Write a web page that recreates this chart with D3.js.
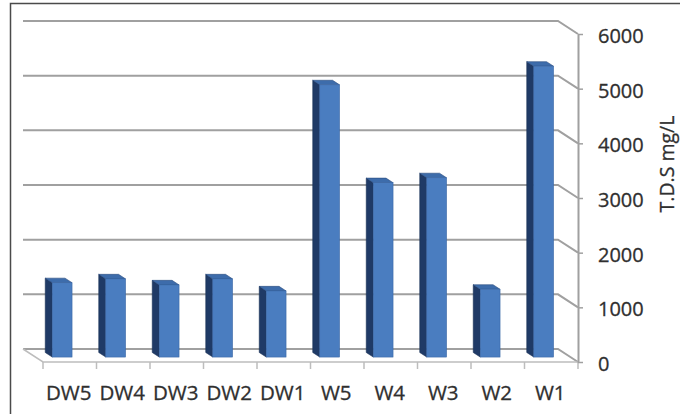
<!DOCTYPE html>
<html>
<head>
<meta charset="utf-8">
<script src="https://cdn.jsdelivr.net/npm/d3@7"></script>
<style>
  html, body { margin: 0; padding: 0; background: #ffffff; }
  svg { display: block; }
  text { font-family: "Open Sans", "Noto Sans", sans-serif; fill: #2f2f2f; stroke: #2f2f2f; stroke-width: 0.3px; }
</style>
</head>
<body>
<svg id="chart" width="680" height="414"></svg>
<script>
// Sampling sites and their total dissolved solids (mg/L)
const categories = ["DW5", "DW4", "DW3", "DW2", "DW1", "W5", "W4", "W3", "W2", "W1"];
const tdsValues = [1360, 1430, 1320, 1430, 1210, 4980, 3190, 3280, 1240, 5320];
const tickValues = [0, 1000, 2000, 3000, 4000, 5000, 6000];
const axisTitle = "T.D.S mg/L";

const svg = d3.select("#chart");

// Front plane scales (floor front edge and value axis)
const x = d3.scaleBand().domain(categories).range([43, 578]);
const y = d3.scaleLinear().domain([0, 6000]).range([362, 34]);

// Oblique depth: the back wall sits up-left of the front plane
const DX = 20, DY = 13;
function proj(px, v, t) {
  return [px - (1 - t) * DX, y(v) - (1 - t) * DY];
}

// Outer frame (right and bottom edges run past the canvas)
svg.append("rect")
  .attr("x", 10.5).attr("y", 3.5)
  .attr("width", 680).attr("height", 430)
  .attr("fill", "none").attr("stroke", "#4a4a4a").attr("stroke-width", 1.5);

const [xl, xr] = x.range();

// Back wall gridlines with their side-wall returns to the value axis
const grid = svg.append("g").attr("stroke", "#a0a0a0").attr("stroke-width", 2).attr("fill", "none");
tickValues.forEach(v => {
  const a = proj(xl, v, 0), b = proj(xr, v, 0), c = proj(xr, v, 1);
  grid.append("path").attr("d", `M${a[0]},${a[1]}L${b[0]},${b[1]}L${c[0]},${c[1]}`);
});

// Floor outline
const f0 = proj(xl, 0, 0), f1 = proj(xl, 0, 1), f2 = proj(xr, 0, 1);
svg.append("path")
  .attr("d", `M${f0[0]},${f0[1]}L${f1[0]},${f1[1]}L${f2[0]},${f2[1]}`)
  .attr("fill", "none").attr("stroke", "#bdbdbd").attr("stroke-width", 1.5);

// Category boundary ticks under the floor
const bounds = categories.map(c => x(c)).concat([xr]);
svg.append("g").selectAll("line").data(bounds).join("line")
  .attr("x1", d => d).attr("x2", d => d)
  .attr("y1", y(0)).attr("y2", y(0) + 7)
  .attr("stroke", "#bdbdbd").attr("stroke-width", 1.5);

// Bars: front face, left side face, top face
const tFront = 0.62, tBack = 0.27;
const barW = x.bandwidth() * 0.37;
const pts = arr => arr.map(p => p.join(",")).join(" ");

const bars = svg.append("g").selectAll("g").data(categories.map((c, i) => ({ c, v: tdsValues[i] }))).join("g");

bars.each(function (d) {
  const g = d3.select(this);
  const cx = x(d.c) + x.bandwidth() / 2;
  const x0 = cx - barW / 2, x1 = cx + barW / 2;
  g.append("polygon")
    .attr("points", pts([proj(x0, 0, tFront), proj(x0, d.v, tFront), proj(x0, d.v, tBack), proj(x0, 0, tBack)]))
    .attr("fill", "#1f3a66").attr("stroke", "#182f55").attr("stroke-width", 0.6);
  g.append("polygon")
    .attr("points", pts([proj(x0, d.v, tFront), proj(x1, d.v, tFront), proj(x1, d.v, tBack), proj(x0, d.v, tBack)]))
    .attr("fill", "#3d6cab").attr("stroke", "#2a4b7e").attr("stroke-width", 0.6);
  const p = proj(x0, d.v, tFront), q = proj(x1, 0, tFront);
  g.append("rect")
    .attr("x", p[0]).attr("y", p[1])
    .attr("width", q[0] - p[0]).attr("height", q[1] - p[1])
    .attr("fill", "#4a7dc0").attr("stroke", "#3b68a6").attr("stroke-width", 0.6);
});

// Value axis on the right of the front plane
const axis = svg.append("g")
  .attr("transform", `translate(${xr},0)`)
  .call(d3.axisRight(y).tickValues(tickValues).tickFormat(d3.format("d"))
    .tickSize(5).tickSizeOuter(0).tickPadding(15));
axis.select(".domain").attr("stroke", "#a0a0a0").attr("stroke-width", 2);
axis.selectAll(".tick line").attr("stroke", "#a0a0a0").attr("stroke-width", 1.5);
axis.selectAll(".tick text")
  .attr("fill", "#2f2f2f").attr("y", 2)
  .style("font-family", '"Open Sans", sans-serif').style("font-size", "20px");

// Category labels
svg.append("g").selectAll("text").data(categories).join("text")
  .attr("x", d => x(d) + x.bandwidth() / 2 - 1)
  .attr("y", 400)
  .attr("text-anchor", "middle")
  .style("font-size", "20.5px")
  .text(d => d);

// Value axis title
svg.append("text")
  .attr("transform", "translate(674,164) rotate(-90)")
  .attr("text-anchor", "middle")
  .style("font-size", "19.5px")
  .text(axisTitle);
</script>
</body>
</html>
